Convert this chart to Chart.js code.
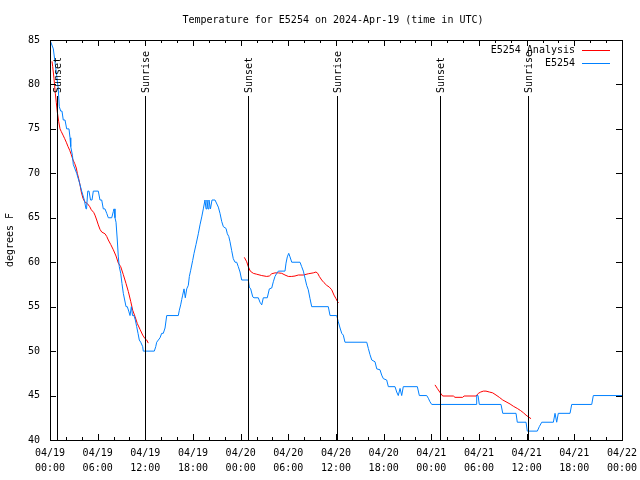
<!DOCTYPE html>
<html>
<head>
<meta charset="utf-8">
<script src="https://cdn.jsdelivr.net/npm/chart.js@4/dist/chart.umd.min.js"></script>
<style>
html,body{margin:0;padding:0;background:#fff;}
#c{display:block;}
</style>
</head>
<body>
<canvas id="c" width="640" height="480"></canvas>
<script>
// ---- data (x = hours since 2024-04-19 00:00 UTC) ----
const chartTitle = 'Temperature for E5254 on 2024-Apr-19 (time in UTC)';
const yAxisTitle = 'degrees F';
const xTickDates = ['04/19','04/19','04/19','04/19','04/20','04/20','04/20','04/20','04/21','04/21','04/21','04/21','04/22'];
const xTickTimes = ['00:00','06:00','12:00','18:00','00:00','06:00','12:00','18:00','00:00','06:00','12:00','18:00','00:00'];
const yTicks = [40,45,50,55,60,65,70,75,80,85];

const stationLabel = 'E5254';
const stationHours = [0.00,0.42,0.63,0.84,1.04,1.17,1.35,1.51,1.67,1.89,2.10,2.39,2.52,2.61,2.83,2.93,3.36,3.69,3.99,4.32,4.53,4.60,4.75,4.91,5.10,5.29,5.45,6.08,6.29,6.51,6.71,6.92,7.14,7.34,7.77,7.97,8.06,8.18,8.31,8.47,8.60,8.72,8.90,9.06,9.23,9.40,9.57,9.73,9.91,10.07,10.24,10.39,10.57,10.74,10.91,11.08,11.24,11.42,11.67,11.74,13.13,13.31,13.43,13.85,14.06,14.26,14.48,14.69,16.15,16.28,16.45,16.58,16.70,16.87,17.03,17.21,17.41,17.54,17.71,17.96,18.13,18.38,18.67,18.88,19.10,19.30,19.51,19.64,19.76,19.89,20.01,20.20,20.39,20.77,21.19,21.40,21.61,21.82,22.16,22.32,22.50,22.66,22.87,23.07,23.29,23.50,23.70,23.92,24.13,24.96,25.09,25.26,25.52,25.68,26.22,26.43,26.65,26.85,27.35,27.61,27.91,28.11,28.32,28.54,28.74,29.58,29.71,29.87,30.05,30.21,30.43,31.47,31.68,31.89,32.10,32.31,32.51,32.73,32.94,35.03,35.25,36.09,36.29,36.51,36.72,36.92,37.13,39.87,40.07,40.28,40.50,40.91,41.13,41.54,41.75,41.96,42.38,42.59,43.43,43.64,43.84,44.06,44.27,44.47,46.24,46.49,47.42,47.62,47.83,48.05,53.63,53.71,53.88,54.04,56.77,56.99,58.66,58.82,59.92,60.08,61.34,61.59,61.90,63.36,63.57,63.78,63.98,65.46,65.67,68.19,68.39,72.00];
const stationTemps = [85,84,82.5,81,79.5,77.5,77,77,76,76,75,75,74,73,72,71,70,69,68,67,66,66,68,68,67,67,68,68,67,67,66,66,65.5,65,65,65.7,66,65,64.5,62.5,60.6,59.5,58.75,57.6,56.5,55.75,55,55,54.5,54,55,54,54,53.5,52.75,52,51.25,51,50.5,50,50,50.5,51,51.5,52,52,52.6,54,54,54.6,55.2,55.8,56.3,57,56,57,57.4,58.4,59.1,60.2,61,62,63.2,64.2,65.1,66,67,66,67,66,67,66,67,67,66.2,65.5,64.6,64,63.8,63.2,62.9,62.3,61.3,60.4,60,60,59.5,58.9,58,58,57.2,57,56.1,56,56,55.5,55.2,56,56,57,57.1,57.8,58.4,58.75,59,59,59.9,60.6,61,60.6,60,60,59.5,59,58.2,57.4,56.9,55.9,55,55,54,54,53.3,52.6,52,51.8,51,51,50.3,49.6,49,48.8,48,47.9,47.3,46.9,46.75,46,46,45.4,45,45.8,45,46,46,45,45,44.7,44.3,44,44,45,45,44,44,43,43,42,42,41,41,41.5,42,42,43,42,43,43,44,44,45,45];

const analysisLabel = 'E5254 Analysis';
const analysisHours = [0.25,0.34,0.50,0.67,0.79,0.92,1.10,1.26,1.42,1.64,1.85,2.05,2.27,2.48,2.68,2.90,3.11,3.31,3.44,3.61,3.78,3.94,4.15,4.37,4.70,5.00,5.20,5.50,5.66,5.88,6.08,6.29,6.51,6.92,7.14,7.34,7.64,7.97,8.31,8.60,8.90,9.23,9.57,9.86,10.16,10.41,10.70,10.99,11.33,11.67,11.96,12.17,12.37,
  18.00,
  24.46,24.76,24.96,25.21,25.59,26.02,26.65,27.28,27.61,27.91,28.32,28.74,29.17,29.58,30.00,30.43,30.84,31.26,31.89,32.51,33.14,33.48,33.70,33.90,34.20,34.49,34.83,35.16,35.46,35.75,36.00,36.17,36.34,
  42.00,
  48.46,48.75,49.09,49.43,50.77,50.98,51.95,52.12,53.63,53.92,54.22,54.55,54.88,55.30,55.73,56.14,56.56,56.99,57.40,57.91,58.32,58.82,59.25,59.58,59.92,60.21,60.55];
const analysisTemps = [82.6,82,80.7,79,78,76.9,75.8,75,74.7,74.3,73.9,73.5,73,72.6,72.1,71.5,71.1,70.6,70,69.4,68.7,67.9,67.2,66.8,66.6,66.25,65.9,65.6,65.3,64.75,64.2,63.7,63.4,63.2,62.9,62.5,62,61.4,60.7,59.9,59.5,58.6,57.6,56.7,55.6,54.6,53.9,53.1,52.45,51.8,51.4,51.25,50.9,
  null,
  60.55,60.05,59.5,59,58.75,58.65,58.5,58.4,58.45,58.7,58.8,58.8,58.75,58.56,58.4,58.4,58.45,58.56,58.56,58.7,58.8,58.9,58.75,58.4,58,57.7,57.4,57.2,56.9,56.3,55.9,55.6,55.45,
  null,
  46.2,45.8,45.35,44.95,44.95,44.8,44.8,44.95,44.95,45.25,45.4,45.5,45.5,45.4,45.3,45.06,44.8,44.5,44.3,44.05,43.8,43.55,43.3,43.07,42.8,42.6,42.4];

const sunEventLabels = ['Sunset','Sunrise','Sunset','Sunrise','Sunset','Sunrise'];
const sunEventHours = [0.92,12.00,24.96,36.15,49.12,60.20];

// ---- chart ----
const FONT = 'DejaVu Sans Mono';
const toPts = (xs, ys) => xs.map((x, i) => ({x: x, y: ys[i]}));

const decor = {
  id: 'decor',
  afterDraw(chart) {
    const ctx = chart.ctx, a = chart.chartArea;
    const xs = chart.scales.x, ys = chart.scales.y;
    ctx.save();
    ctx.strokeStyle = '#000';
    ctx.lineWidth = 1;
    // sunrise / sunset lines
    ctx.beginPath();
    sunEventHours.forEach(h => {
      const px = Math.round(xs.getPixelForValue(h)) + 0.5;
      ctx.moveTo(px, a.bottom);
      ctx.lineTo(px, 96);
    });
    ctx.stroke();
    ctx.fillStyle = '#000';
    ctx.font = '10px "' + FONT + '"';
    sunEventHours.forEach((h, i) => {
      const px = Math.round(xs.getPixelForValue(h)) + 0.5;
      ctx.save();
      ctx.translate(px + 1, 93);
      ctx.rotate(-Math.PI / 2);
      ctx.textAlign = 'left';
      ctx.textBaseline = 'middle';
      ctx.fillText(sunEventLabels[i], 0, 0);
      ctx.restore();
    });
    // border
    ctx.strokeRect(Math.round(a.left) + 0.5, Math.round(a.top) + 0.5, Math.round(a.right - a.left), Math.round(a.bottom - a.top));
    // ticks (inside)
    ctx.beginPath();
    for (let h = 0; h <= 72; h += 2) {
      const px = Math.round(xs.getPixelForValue(h)) + 0.5;
      const len = (h % 6 === 0) ? 6 : 3;
      ctx.moveTo(px, a.bottom); ctx.lineTo(px, a.bottom - len);
      ctx.moveTo(px, a.top); ctx.lineTo(px, a.top + len);
    }
    yTicks.forEach(v => {
      const py = Math.round(ys.getPixelForValue(v)) + 0.5;
      ctx.moveTo(a.left, py); ctx.lineTo(a.left + 6, py);
      ctx.moveTo(a.right, py); ctx.lineTo(a.right - 6, py);
    });
    ctx.stroke();
    // title
    ctx.textAlign = 'center';
    ctx.textBaseline = 'middle';
    ctx.fillText(chartTitle, 333, 20);
    // legend
    ctx.textAlign = 'right';
    ctx.fillText(analysisLabel, 575, 50);
    ctx.fillText(stationLabel, 575, 63);
    ctx.strokeStyle = '#ff0000';
    ctx.beginPath(); ctx.moveTo(582, 50.5); ctx.lineTo(610, 50.5); ctx.stroke();
    ctx.strokeStyle = '#0080ff';
    ctx.beginPath(); ctx.moveTo(582, 63.5); ctx.lineTo(610, 63.5); ctx.stroke();
    ctx.restore();
  }
};

new Chart(document.getElementById('c'), {
  type: 'line',
  data: {
    datasets: [
      {
        label: stationLabel,
        data: toPts(stationHours, stationTemps),
        borderColor: '#0080ff',
        borderWidth: 1,
        pointRadius: 0,
        tension: 0,
        fill: false
      },
      {
        label: analysisLabel,
        data: toPts(analysisHours, analysisTemps),
        borderColor: '#ff0000',
        borderWidth: 1,
        pointRadius: 0,
        tension: 0,
        fill: false,
        spanGaps: false
      }
    ]
  },
  options: {
    responsive: false,
    animation: false,
    devicePixelRatio: 1,
    layout: { padding: { top: 40, right: 18, left: 0, bottom: 0 } },
    plugins: { legend: { display: false }, title: { display: false }, tooltip: { enabled: false } },
    scales: {
      x: {
        type: 'linear',
        min: 0, max: 72,
        grid: { display: false, drawTicks: false },
        border: { display: false },
        afterFit: s => { s.height = 40; s.paddingLeft = 0; s.paddingRight = 0; },
        afterBuildTicks: s => { s.ticks = xTickTimes.map((t, i) => ({ value: i * 6 })); },
        ticks: {
          autoSkip: false, maxRotation: 0, minRotation: 0,
          padding: 6,
          color: '#000',
          font: { family: FONT, size: 10, lineHeight: 1.5 },
          callback: v => { const i = Math.round(v / 6); return [xTickDates[i], xTickTimes[i]]; }
        }
      },
      y: {
        type: 'linear',
        min: 40, max: 85,
        grid: { display: false, drawTicks: false },
        border: { display: false },
        afterFit: s => { s.width = 50; },
        afterBuildTicks: s => { s.ticks = yTicks.map(v => ({ value: v })); },
        title: { display: true, text: yAxisTitle, color: '#000', font: { family: FONT, size: 10 }, padding: { top: 4, bottom: 0 } },
        ticks: { padding: 10, color: '#000', font: { family: FONT, size: 10 } }
      }
    }
  },
  plugins: [decor]
});
</script>
</body>
</html>
